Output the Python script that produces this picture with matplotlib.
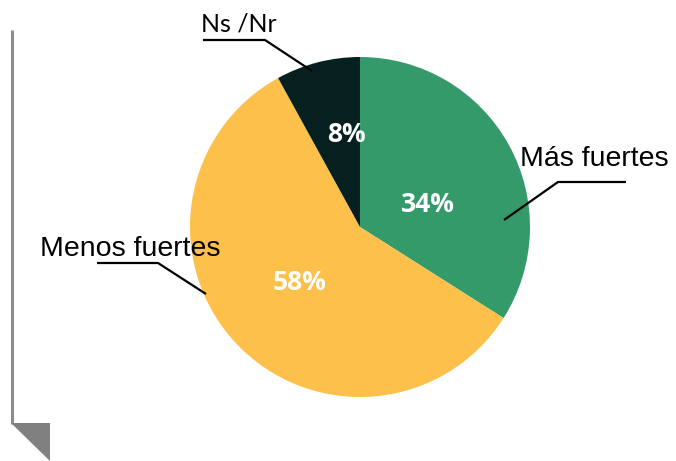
import matplotlib
matplotlib.use("Agg")
import matplotlib.pyplot as plt
from matplotlib.patches import Polygon

categories = ["Más fuertes", "Menos fuertes", "Ns /Nr"]
values = [34, 58, 8]
colors = ["#359a69", "#fdc04a", "#05201f"]

W, H = 676, 461
fig = plt.figure(figsize=(W / 100, H / 100), dpi=100)
ax = fig.add_axes([0, 0, 1, 1])

def Y(y):
    return H - y

cx, cy, r = 360, 227, 170
wedges, _ = ax.pie(values, colors=colors, startangle=90, counterclock=False,
                   center=(cx, Y(cy)), radius=r, frame=True,
                   wedgeprops=dict(linewidth=0))
ax.set_xlim(0, W)
ax.set_ylim(0, H)
ax.set_aspect("equal")
ax.axis("off")

# percentage labels
pct_pos = [(428, 204), (300, 282), (346, 134)]
for v, (x, y) in zip(values, pct_pos):
    ax.text(x, Y(y), f"{v}%", color="white", fontsize=19, fontweight="bold",
            family=["Open Sans", "DejaVu Sans"], ha="center", va="center")

# category labels with leader lines
label_pos = [(520, 166, 20.5, "Liberation Sans"),
             (40, 256, 20.5, "Liberation Sans"),
             (201, 32, 18, "Lato")]
leaders = [[(504, 220), (558, 182), (626, 182)],
           [(206, 294), (158, 263), (97, 263)],
           [(312, 71), (265, 40), (203, 40)]]
for cat, (x, y, fs, fam), pts in zip(categories, label_pos, leaders):
    ax.text(x, Y(y), cat, fontsize=fs, family=[fam, "DejaVu Sans"],
            ha="left", va="baseline", color="black")
    ax.plot([p[0] for p in pts], [Y(p[1]) for p in pts], color="black", lw=1.6,
            solid_capstyle="butt")

# decorative frame at left
ax.plot([11.5, 11.5], [Y(30), Y(424)], color="#8c8c8c", lw=2.2, solid_capstyle="butt")
ax.add_patch(Polygon([(11, Y(423)), (50, Y(423)), (50, Y(461))], closed=True,
                     facecolor="#808080", edgecolor="none"))

fig.savefig("out.png", dpi=100)
